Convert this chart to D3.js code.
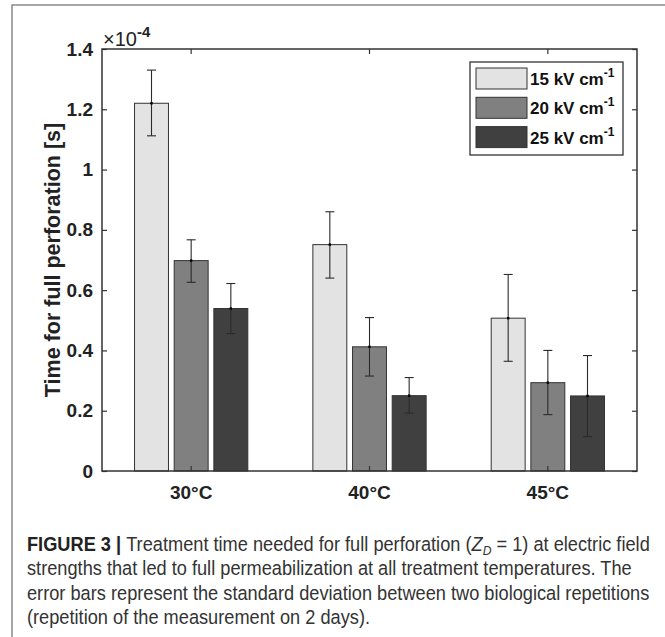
<!DOCTYPE html>
<html>
<head>
<meta charset="utf-8">
<script src="https://cdn.jsdelivr.net/npm/d3@7"></script>
<style>
  body { margin: 0; background: #fff; }
  svg { display: block; }
</style>
</head>
<body>
<script>
// chart data (values in units of 1e-4 s)
var categories = ["30°C", "40°C", "45°C"];
var series = ["15", "20", "25"];
var means = [
  [1.22, 0.698, 0.539],
  [0.751, 0.412, 0.250],
  [0.507, 0.293, 0.249]
];
var errLow = [
  [1.112, 0.626, 0.456],
  [0.640, 0.315, 0.192],
  [0.364, 0.187, 0.114]
];
var errHigh = [
  [1.330, 0.767, 0.622],
  [0.860, 0.509, 0.310],
  [0.652, 0.400, 0.383]
];
var yTicks = [0, 0.2, 0.4, 0.6, 0.8, 1, 1.2, 1.4];
var colors = ["#e3e3e3", "#808080", "#404040"];

var W = 665, H = 637;
var svg = d3.select("body").append("svg")
    .attr("width", W)
    .attr("height", H);

// outer figure frame
svg.append("rect")
    .attr("x", 12).attr("y", 5)
    .attr("width", 700).attr("height", 700)
    .attr("fill", "none")
    .attr("stroke", "#8a8a8a")
    .attr("stroke-width", 1.5);

var m = {left: 102, right: 637, top: 49, bottom: 471};

var y = d3.scaleLinear().domain([0, 1.4]).range([m.bottom, m.top]);
var x = d3.scaleBand().domain(categories).range([m.left, m.right]);
var xs = d3.scaleBand().domain(series).range([0, x.bandwidth()])
    .paddingInner(0.144).paddingOuter(0.82);

var font = "'Liberation Sans', Arial, sans-serif";

// bars
var groups = svg.selectAll("g.grp")
    .data(categories)
    .enter().append("g")
    .attr("class", "grp")
    .attr("transform", function(d) { return "translate(" + x(d) + ",0)"; });

groups.each(function(cat, i) {
  var g = d3.select(this);
  series.forEach(function(s, j) {
    g.append("rect")
        .attr("x", xs(s))
        .attr("y", y(means[i][j]))
        .attr("width", xs.bandwidth())
        .attr("height", y(0) - y(means[i][j]))
        .attr("fill", colors[j])
        .attr("stroke", "#333")
        .attr("stroke-width", 1);
  });
});

// error bars
groups.each(function(cat, i) {
  var g = d3.select(this);
  series.forEach(function(s, j) {
    var cx = xs(s) + xs.bandwidth() / 2;
    var col = "#2a2a2a";
    g.append("line")
        .attr("x1", cx).attr("x2", cx)
        .attr("y1", y(errLow[i][j])).attr("y2", y(errHigh[i][j]))
        .attr("stroke", col).attr("stroke-width", 1.1);
    [errLow[i][j], errHigh[i][j]].forEach(function(v) {
      g.append("line")
          .attr("x1", cx - 4.5).attr("x2", cx + 4.5)
          .attr("y1", y(v)).attr("y2", y(v))
          .attr("stroke", col).attr("stroke-width", 1.1);
    });
    g.append("rect")
        .attr("x", cx - 1.2).attr("y", y(means[i][j]) - 1.2)
        .attr("width", 2.4).attr("height", 2.4)
        .attr("fill", "#000");
  });
});

// axes box
svg.append("rect")
    .attr("x", m.left).attr("y", m.top)
    .attr("width", m.right - m.left).attr("height", m.bottom - m.top)
    .attr("fill", "none")
    .attr("stroke", "#333")
    .attr("stroke-width", 1.5);

// y axis (left + mirrored right ticks)
var yAxis = d3.axisLeft(y).tickValues(yTicks).tickSize(-5).tickPadding(9)
    .tickFormat(function(d) { return d3.format("")(+d.toFixed(1)); });
var gy = svg.append("g").attr("transform", "translate(" + m.left + ",0)").call(yAxis);
gy.select(".domain").remove();
gy.selectAll(".tick line").attr("stroke", "#333").attr("stroke-width", 1.2);
gy.selectAll(".tick text")
    .attr("font-family", font).attr("font-size", 19).attr("font-weight", "bold")
    .attr("fill", "#222");

var gyr = svg.append("g").attr("transform", "translate(" + m.right + ",0)")
    .call(d3.axisRight(y).tickValues(yTicks).tickSize(-5).tickFormat(""));
gyr.select(".domain").remove();
gyr.selectAll(".tick line").attr("stroke", "#333").attr("stroke-width", 1.2);

// x axis (bottom + mirrored top ticks)
var gx = svg.append("g").attr("transform", "translate(0," + m.bottom + ")")
    .call(d3.axisBottom(x).tickSize(-5).tickPadding(15));
gx.select(".domain").remove();
gx.selectAll(".tick line").attr("stroke", "#333").attr("stroke-width", 1.2);
gx.selectAll(".tick text")
    .attr("font-family", font).attr("font-size", 19).attr("font-weight", "bold")
    .attr("fill", "#222");

var gxt = svg.append("g").attr("transform", "translate(0," + m.top + ")")
    .call(d3.axisTop(x).tickSize(-5).tickFormat(""));
gxt.select(".domain").remove();
gxt.selectAll(".tick line").attr("stroke", "#333").attr("stroke-width", 1.2);

// exponent label
var ex = svg.append("text")
    .attr("x", 103).attr("y", 46)
    .attr("font-family", font).attr("font-size", 20).attr("fill", "#222");
ex.append("tspan").text("×10");
ex.append("tspan").attr("dy", -9).attr("font-size", 15).attr("font-weight", "bold").text("-4");

// y axis title
svg.append("text")
    .attr("transform", "translate(60," + ((m.top + m.bottom) / 2) + ") rotate(-90)")
    .attr("text-anchor", "middle")
    .attr("font-family", font).attr("font-size", 21.5).attr("font-weight", "bold")
    .attr("fill", "#222")
    .text("Time for full perforation [s]");

// legend
var lg = svg.append("g");
lg.append("rect")
    .attr("x", 470).attr("y", 62).attr("width", 153).attr("height", 93)
    .attr("fill", "#fff").attr("stroke", "#333").attr("stroke-width", 1.3);
series.forEach(function(s, j) {
  var ry = 68 + j * 29.3;
  lg.append("rect")
      .attr("x", 476).attr("y", ry).attr("width", 51).attr("height", 21)
      .attr("fill", colors[j]).attr("stroke", "#333").attr("stroke-width", 1);
  var t = lg.append("text")
      .attr("x", 530).attr("y", ry + 17)
      .attr("font-family", font).attr("font-size", 17).attr("font-weight", "bold")
      .attr("fill", "#111");
  t.append("tspan").text(s + " kV cm");
  t.append("tspan").attr("dy", -8).attr("font-size", 12).text("-1");
});

// caption (condensed look via horizontal scale)
var capY0 = 551, capDy = 24.3;
var capWrap = svg.append("g").attr("transform", "translate(27,0)");
var cap = capWrap.append("g").attr("font-family", font).attr("font-size", 19.5).attr("fill", "#333");

var l1 = cap.append("text").attr("x", 0).attr("y", capY0);
l1.append("tspan").attr("font-weight", "bold").attr("fill", "#222").text("FIGURE 3 | ");
l1.append("tspan").text("Treatment time needed for full perforation (");
l1.append("tspan").attr("font-style", "italic").text("Z");
l1.append("tspan").attr("font-style", "italic").attr("font-size", 13).attr("dy", 4).text("D");
l1.append("tspan").attr("dy", -4).text("  = 1) at electric field");

var capLines = [
  "strengths that led to full permeabilization at all treatment temperatures. The",
  "error bars represent the standard deviation between two biological repetitions",
  "(repetition of the measurement on 2 days)."
];
capLines.forEach(function(s, k) {
  cap.append("text").attr("x", 0).attr("y", capY0 + (k + 1) * capDy).text(s);
});
var natural = l1.node().getComputedTextLength();
cap.attr("transform", "scale(" + (623 / natural) + ",1)");
</script>
</body>
</html>
